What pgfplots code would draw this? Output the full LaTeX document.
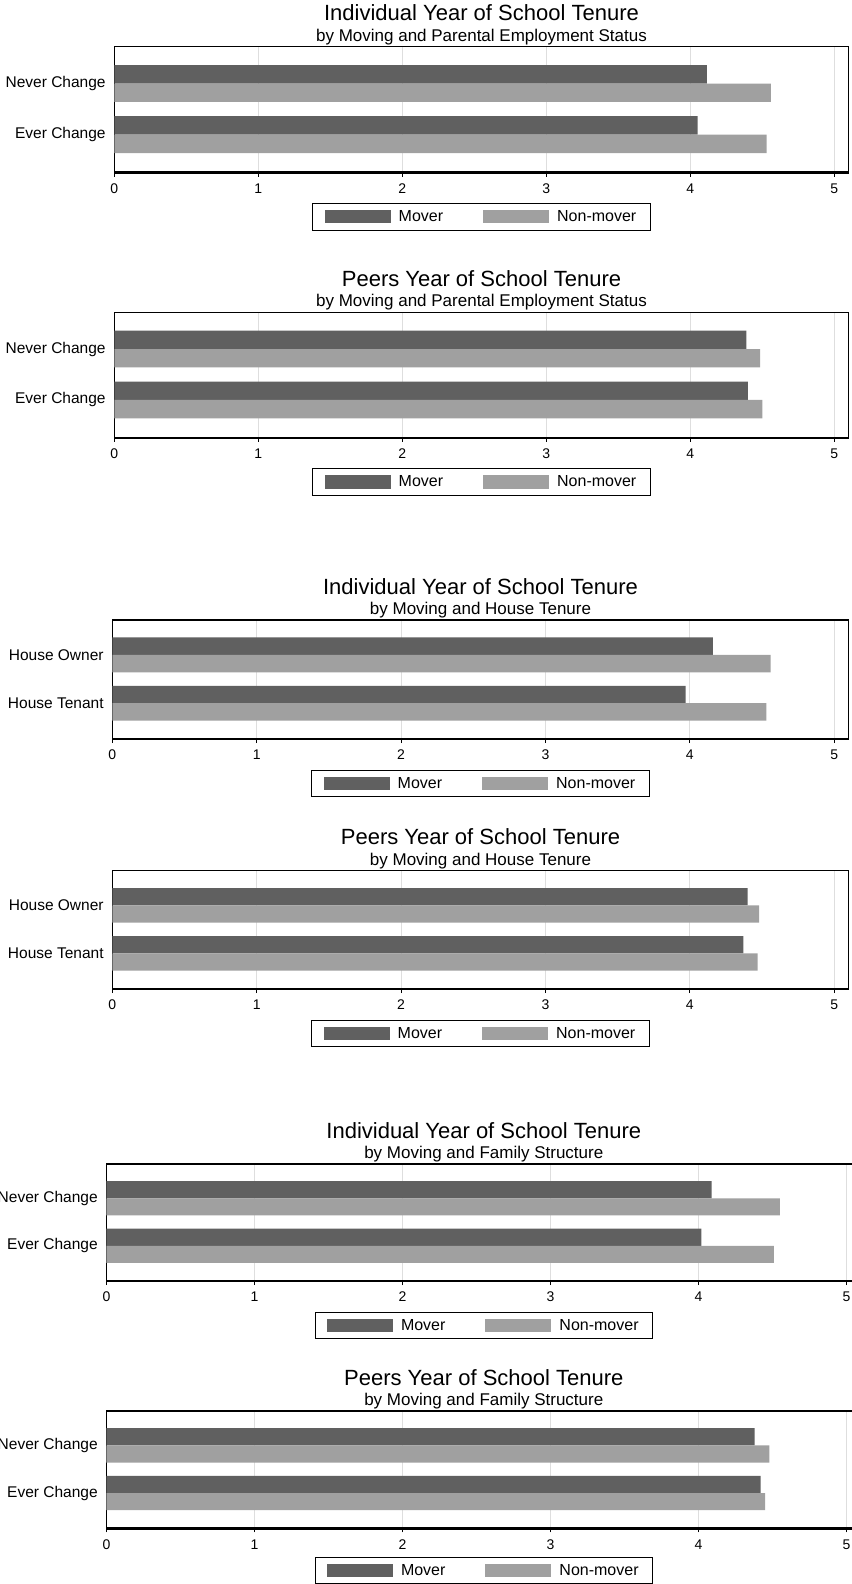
\documentclass[border=0pt]{standalone}
\usepackage{fontspec}
\setmainfont{Liberation Sans}
\usepackage{pgfplots}
\pgfplotsset{compat=1.18}
\definecolor{moverc}{RGB}{96,96,96}
\definecolor{nonc}{RGB}{160,160,160}
\definecolor{gridc}{RGB}{222,222,222}
\pgfplotsset{
  panel/.style={
    scale only axis, clip=false,
    xmin=0, xmax=5.1, ymin=-0.74, ymax=1.72,
    xtick={0,1,2,3,4,5}, ytick={0,1},
    xmajorgrids,
    grid style={draw=gridc, line width=0.9pt},
    axis line style={line width=1.5pt, black},
    tick align=outside, xtick pos=left, ytick pos=left,
    major tick length=4pt,
    xtick style={black, line width=1pt},
    ytick style={draw=none},
    xticklabel style={font=\fontsize{14}{14}\selectfont, inner sep=0pt, yshift=-7pt},
    yticklabel style={font=\fontsize{15.5}{16}\selectfont, inner sep=0pt, xshift=-4.5pt},
    /pgf/number format/assume math mode=true,
    xbar, bar width=0.36,
    legend columns=2,
    legend cell align=left,
    legend image code/.code={\fill[##1] (0pt,-6.6pt) rectangle (66pt,6.6pt);},
    legend style={at={(0.5,0)}, anchor=north, yshift=-30.5pt, draw=black, line width=1pt,
      inner xsep=12pt, inner ysep=5pt, font=\fontsize{16}{16}\selectfont,
      /tikz/every odd column/.append style={column sep=6pt},
      /tikz/every even column/.append style={column sep=38pt},
      /tikz/column 3/.append style={column sep=10pt}},
  },
  mover/.style={fill=moverc, draw=none, bar shift=0.18},
  nonmover/.style={fill=nonc, draw=none, bar shift=-0.18},
}
\newcommand{\ptitle}[2]{%
  \node[font=\fontsize{22}{22}\selectfont, anchor=base] at ([yshift=26pt]rel axis cs:0.5,1) {#1};
  \node[font=\fontsize{17}{17}\selectfont, anchor=base] at ([yshift=5.5pt]rel axis cs:0.5,1) {#2};
  \draw[line width=2.4pt] (rel axis cs:0,0) -- (rel axis cs:1,0);
}
\begin{document}
\begin{tikzpicture}
\useasboundingbox (0pt,0pt) rectangle (851pt,-1584pt);

% Panel 1
\begin{axis}[panel, at={(114.3pt,-172.5pt)}, anchor=south west, width=734.4pt, height=125.8pt,
  yticklabels={Ever Change, Never Change}]
\addplot[mover] coordinates {(4.05,0) (4.115,1)};
\addplot[nonmover] coordinates {(4.53,0) (4.56,1)};
\legend{Mover, Non-mover}
\ptitle{Individual Year of School Tenure}{by Moving and Parental Employment Status}
\end{axis}

% Panel 2
\begin{axis}[panel, at={(114.3pt,-437.7pt)}, anchor=south west, width=734.4pt, height=125.4pt,
  yticklabels={Ever Change, Never Change}]
\addplot[mover] coordinates {(4.40,0) (4.39,1)};
\addplot[nonmover] coordinates {(4.50,0) (4.485,1)};
\legend{Mover, Non-mover}
\ptitle{Peers Year of School Tenure}{by Moving and Parental Employment Status}
\end{axis}

% Panel 3
\begin{axis}[panel, at={(112.3pt,-739pt)}, anchor=south west, width=736.4pt, height=119pt,
  yticklabels={House Tenant, House Owner}]
\addplot[mover] coordinates {(3.97,0) (4.16,1)};
\addplot[nonmover] coordinates {(4.53,0) (4.56,1)};
\legend{Mover, Non-mover}
\ptitle{Individual Year of School Tenure}{by Moving and House Tenure}
\end{axis}

% Panel 4
\begin{axis}[panel, at={(112.3pt,-989pt)}, anchor=south west, width=736.4pt, height=118.3pt,
  yticklabels={House Tenant, House Owner}]
\addplot[mover] coordinates {(4.37,0) (4.40,1)};
\addplot[nonmover] coordinates {(4.47,0) (4.48,1)};
\legend{Mover, Non-mover}
\ptitle{Peers Year of School Tenure}{by Moving and House Tenure}
\end{axis}

% Panel 5
\begin{axis}[panel, at={(106.4pt,-1281pt)}, anchor=south west, width=754.8pt, height=117pt,
  yticklabels={Ever Change, Never Change}]
\addplot[mover] coordinates {(4.02,0) (4.09,1)};
\addplot[nonmover] coordinates {(4.51,0) (4.55,1)};
\legend{Mover, Non-mover}
\ptitle{Individual Year of School Tenure}{by Moving and Family Structure}
\end{axis}

% Panel 6
\begin{axis}[panel, at={(106.4pt,-1528.3pt)}, anchor=south west, width=754.8pt, height=117.3pt,
  yticklabels={Ever Change, Never Change}, legend style={yshift=2pt}]
\addplot[mover] coordinates {(4.42,0) (4.38,1)};
\addplot[nonmover] coordinates {(4.45,0) (4.48,1)};
\legend{Mover, Non-mover}
\ptitle{Peers Year of School Tenure}{by Moving and Family Structure}
\end{axis}
\end{tikzpicture}
\end{document}
